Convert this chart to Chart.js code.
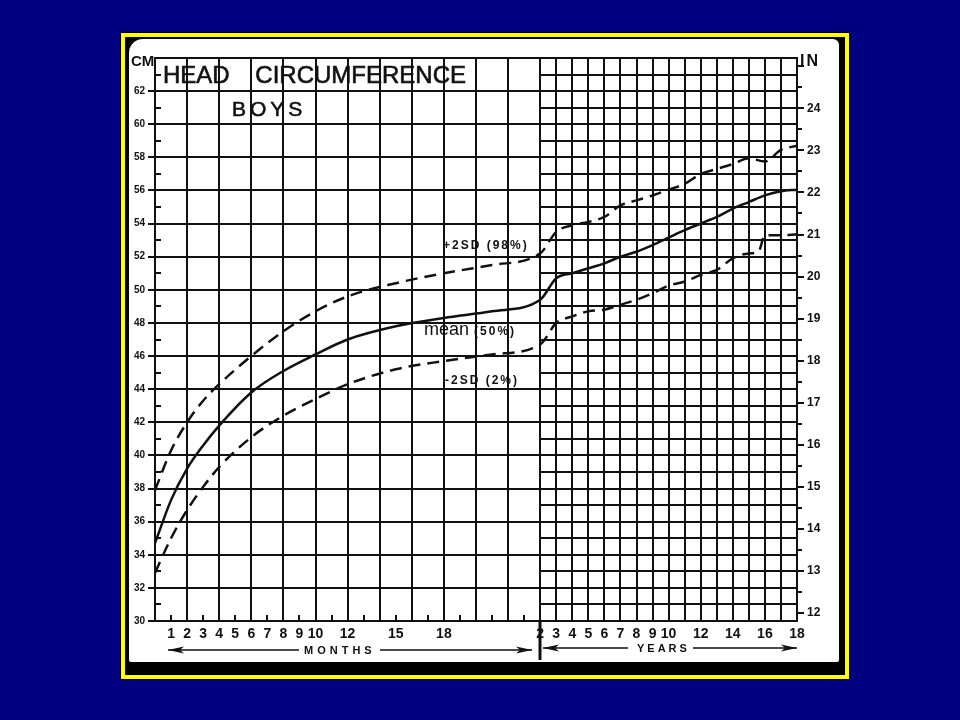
<!DOCTYPE html>
<html>
<head>
<meta charset="utf-8">
<title>Head Circumference - Boys</title>
<script src="https://cdn.jsdelivr.net/npm/chart.js@4.4.1/dist/chart.umd.min.js"></script>
<style>
  html, body { margin: 0; padding: 0; }
  body { width: 960px; height: 720px; background: #000080; position: relative; overflow: hidden; }
  #frame { position: absolute; left: 121px; top: 33px; width: 728px; height: 646px; box-sizing: border-box;
           border: 4px solid #ffff00; outline: 1px solid #000; background: #000; }
  #paper { position: absolute; left: 129px; top: 39px; width: 710px; height: 623px; background: #fff;
           border-radius: 14px 6px 2px 2px; }
  #chart { position: absolute; left: 129px; top: 40px; }
  .lbl { position: absolute; color: #111; white-space: nowrap; font-family: 'Liberation Sans', Arial, sans-serif; }
</style>
</head>
<body>
<div id="frame"></div>
<div id="paper"></div>
<canvas id="chart" width="709" height="622"></canvas>

<div class="lbl" style="left:163px; top:63px; font-size:24px; line-height:24px; word-spacing:19px; -webkit-text-stroke:0.6px #111;">HEAD CIRCUMFERENCE</div>
<div class="lbl" style="left:232px; top:98px; font-size:21px; line-height:21px; letter-spacing:4px; -webkit-text-stroke:0.6px #111;">BOYS</div>
<div class="lbl" style="left:131px; top:53px; font-size:15px; line-height:15px; font-weight:bold;">CM</div>
<div class="lbl" style="left:800px; top:53px; font-size:16px; line-height:16px; font-weight:bold; letter-spacing:2px;">IN</div>
<div class="lbl" style="left:443px; top:239px; font-size:12px; line-height:12px; font-weight:bold; letter-spacing:2px;">+2SD (98%)</div>
<div class="lbl" style="left:424px; top:320px; font-size:18px; line-height:18px;">mean <span style="font-size:12px; font-weight:bold; letter-spacing:2px;">(50%)</span></div>
<div class="lbl" style="left:445px; top:374px; font-size:12px; line-height:12px; font-weight:bold; letter-spacing:2px;">-2SD (2%)</div>
<div class="lbl" style="left:304px; top:645px; font-size:11px; line-height:11px; font-weight:bold; letter-spacing:4px;">MONTHS</div>
<div class="lbl" style="left:637px; top:643px; font-size:11px; line-height:11px; font-weight:bold; letter-spacing:3px;">YEARS</div>

<script>

// ======================================
// Data (cm)
// ======================================

// months part: age in months
const monthAges = [0, 1, 2, 3, 4, 6, 8, 10, 12, 15, 18, 21, 24];

// years part: age in years (2 years = 24 months above)
const yearAges = [3, 4, 5, 6, 7, 8, 9, 10, 11, 12, 13, 14, 15, 16, 17, 18];
const minusYearAges = [3, 4, 5, 6, 7, 8, 9, 10, 11, 12, 13, 14, 15, 15.6, 16, 17, 18];

const plus2Months = [37.9, 40.3, 42.0, 43.3, 44.3, 46.0, 47.5, 48.7, 49.6, 50.4, 51.0, 51.5, 52.2];
const meanMonths = [34.7, 37.3, 39.2, 40.6, 41.8, 43.8, 45.1, 46.1, 47.0, 47.8, 48.3, 48.7, 49.4];
const minus2Months = [32.9, 35.0, 36.7, 38.1, 39.3, 41.1, 42.4, 43.4, 44.3, 45.2, 45.7, 46.1, 46.7];

const plus2Years = [53.5, 53.9, 54.1, 54.4, 55.1, 55.4, 55.7, 56.05, 56.4, 57.0, 57.3, 57.6, 57.95, 57.75, 58.45, 58.7];
const meanYears = [50.7, 51.0, 51.3, 51.6, 52.0, 52.3, 52.7, 53.15, 53.6, 54.0, 54.4, 54.9, 55.3, 55.7, 55.95, 56.05];
const minus2Years = [48.0, 48.4, 48.7, 48.8, 49.1, 49.4, 49.8, 50.25, 50.5, 50.9, 51.2, 51.9, 52.2, 52.3, 53.3, 53.3, 53.35];

// tick labels
const monthTickLabels = [1, 2, 3, 4, 5, 6, 7, 8, 9, 10, 12, 15, 18];
const yearTickLabels = [2, 3, 4, 5, 6, 7, 8, 9, 10, 12, 14, 16, 18];
const cmTickLabels = [30, 32, 34, 36, 38, 40, 42, 44, 46, 48, 50, 52, 54, 56, 58, 60, 62];
const inchTickLabels = [12, 13, 14, 15, 16, 17, 18, 19, 20, 21, 22, 23, 24];

const INK = "#111111";
const FONT = "'Liberation Sans', Arial, sans-serif";

// x axis runs 0..24 months, then 1 unit per year from 2 to 18 years
const CM_MIN = 30, CM_MAX = 64, X_MAX = 40, SPLIT = 24;

function yearUnit(yr) {
    return SPLIT + (yr - 2);
}

function buildSeries(monthVals, ages, yearVals) {
    const pts = monthAges.map((m, i) => ({ x: m, y: monthVals[i] }));
    return pts.concat(ages.map((a, i) => ({ x: yearUnit(a), y: yearVals[i] })));
}

const xTickValues = monthTickLabels.map(m => m).concat(yearTickLabels.map(yearUnit));
const xTickText = monthTickLabels.map(String).concat(yearTickLabels.map(String));

// ======================================
// Graph paper plugin
// ======================================

const paperGrid = {
    id: "paperGrid",
    beforeDatasetsDraw(chart) {
        const { ctx, scales } = chart;
        const x = scales.x, y = scales.y, yIn = scales.yIn;
        const px = v => Math.round(x.getPixelForValue(v));
        const py = v => Math.round(y.getPixelForValue(v));

        const left = px(0), right = px(X_MAX), split = px(SPLIT);
        const top = py(CM_MAX), bottom = py(CM_MIN);

        ctx.save();
        ctx.strokeStyle = INK;
        ctx.fillStyle = INK;
        ctx.lineWidth = 2;
        ctx.beginPath();

        // horizontal lines: every 2 cm across, every cm in the years part
        for (let cm = CM_MIN; cm <= CM_MAX; cm++) {
            const yy = py(cm);
            if (cm % 2 === 0) {
                ctx.moveTo(cm === CM_MAX ? left : left - 7, yy);
                ctx.lineTo(right + 1, yy);
            } else {
                ctx.moveTo(split, yy);
                ctx.lineTo(right + 1, yy);
                ctx.moveTo(left, yy);
                ctx.lineTo(left + 6, yy);
            }
        }

        // vertical lines: every 2 months, every year
        for (let m = 0; m <= SPLIT; m += 2) {
            ctx.moveTo(px(m), top - 1);
            ctx.lineTo(px(m), bottom + 1);
        }
        for (let u = SPLIT + 1; u <= X_MAX; u++) {
            ctx.moveTo(px(u), top - 1);
            ctx.lineTo(px(u), bottom + 1);
        }

        // monthly ticks on the bottom edge
        for (let m = 1; m < SPLIT; m += 2) {
            ctx.moveTo(px(m), bottom);
            ctx.lineTo(px(m), bottom - 6);
        }

        // inch ticks on the right edge
        for (let inch = 12; inch <= 25; inch += 0.5) {
            const yy = Math.round(yIn.getPixelForValue(inch));
            ctx.moveTo(right, yy);
            ctx.lineTo(right + (inch % 1 === 0 ? 7 : 5), yy);
        }
        ctx.stroke();

        // 2-year divider under the axis
        ctx.lineWidth = 3;
        ctx.beginPath();
        ctx.moveTo(split, bottom);
        ctx.lineTo(split, bottom + 39);
        ctx.stroke();

        // MONTHS / YEARS arrows
        ctx.lineWidth = 1.5;
        arrowLine(ctx, px(0.8), px(9), bottom + 29, true);
        arrowLine(ctx, px(14), px(23.5), bottom + 29, false);
        arrowLine(ctx, split + 3, px(29.5), bottom + 27, true);
        arrowLine(ctx, px(33.5), right, bottom + 27, false);

        ctx.restore();
    }
};

function arrowLine(ctx, x1, x2, yy, headLeft) {
    ctx.beginPath();
    ctx.moveTo(x1, yy);
    ctx.lineTo(x2, yy);
    ctx.stroke();
    const tip = headLeft ? x1 : x2;
    const dir = headLeft ? 1 : -1;
    ctx.beginPath();
    ctx.moveTo(tip, yy);
    ctx.lineTo(tip + dir * 16, yy - 3.5);
    ctx.lineTo(tip + dir * 12, yy);
    ctx.lineTo(tip + dir * 16, yy + 3.5);
    ctx.closePath();
    ctx.fill();
}

// ======================================
// Chart
// ======================================

function curve(label, data, dashed) {
    return {
        label: label,
        data: data,
        borderColor: INK,
        borderWidth: 2.5,
        borderDash: dashed ? [12, 7] : [],
        cubicInterpolationMode: "monotone",
        pointRadius: 0,
        fill: false
    };
}

const ctx = document.getElementById("chart").getContext("2d");

new Chart(ctx, {
    type: "line",
    data: {
        datasets: [
            curve("+2SD (98%)", buildSeries(plus2Months, yearAges, plus2Years), true),
            curve("mean (50%)", buildSeries(meanMonths, yearAges, meanYears), false),
            curve("-2SD (2%)", buildSeries(minus2Months, minusYearAges, minus2Years), true)
        ]
    },
    options: {
        responsive: false,
        animation: false,
        layout: { padding: { top: 18, left: 0, right: 0, bottom: 0 } },
        plugins: {
            legend: { display: false },
            tooltip: { enabled: false }
        },
        scales: {
            x: {
                type: "linear",
                position: "bottom",
                min: 0,
                max: X_MAX,
                grid: { display: false, drawTicks: false },
                border: { display: false },
                afterBuildTicks: s => { s.ticks = xTickValues.map(v => ({ value: v })); },
                afterFit: s => { s.height = 41; },
                ticks: {
                    autoSkip: false,
                    maxRotation: 0,
                    padding: 5,
                    color: INK,
                    font: { family: FONT, size: 14, weight: "bold" },
                    callback: (v, i) => xTickText[i]
                }
            },
            y: {
                type: "linear",
                position: "left",
                min: CM_MIN,
                max: CM_MAX,
                grid: { display: false, drawTicks: false },
                border: { display: false },
                afterBuildTicks: s => { s.ticks = cmTickLabels.map(v => ({ value: v })); },
                afterFit: s => { s.width = 26; },
                ticks: {
                    padding: 10,
                    color: INK,
                    font: { family: FONT, size: 10, weight: "bold" },
                    callback: (v, i) => String(cmTickLabels[i])
                }
            },
            yIn: {
                type: "linear",
                position: "right",
                min: CM_MIN / 2.54,
                max: CM_MAX / 2.54,
                grid: { display: false, drawTicks: false },
                border: { display: false },
                afterBuildTicks: s => { s.ticks = inchTickLabels.map(v => ({ value: v })); },
                afterFit: s => { s.width = 41; },
                ticks: {
                    padding: 10,
                    color: INK,
                    font: { family: FONT, size: 12, weight: "bold" },
                    callback: (v, i) => String(inchTickLabels[i])
                }
            }
        }
    },
    plugins: [paperGrid]
});

</script>
</body>
</html>
